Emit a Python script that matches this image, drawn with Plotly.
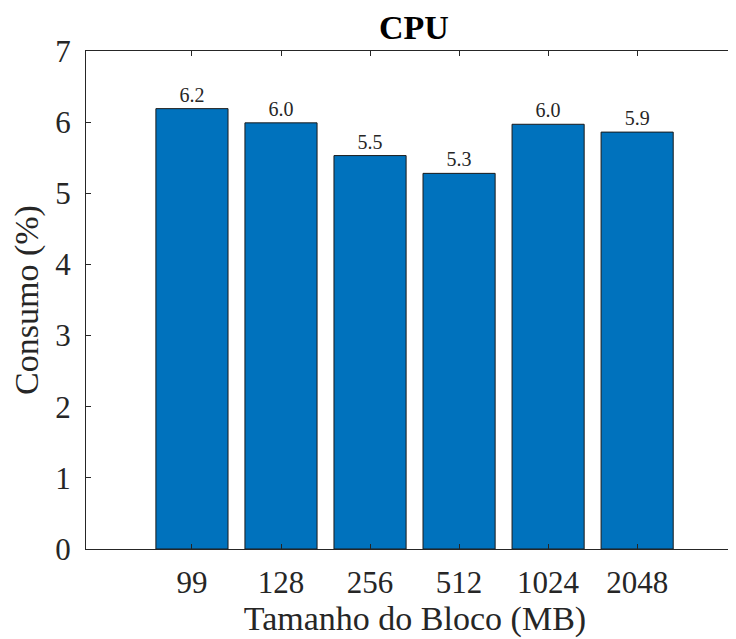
import plotly.graph_objects as go

# Consumo de CPU por tamanho de bloco
blocos = ["99", "128", "256", "512", "1024", "2048"]
consumo = [6.19, 5.99, 5.53, 5.28, 5.97, 5.86]

COR_BARRA = "#0072BD"
COR_EIXO = "#262626"
FONTE = "Liberation Serif, Times New Roman, serif"

fig = go.Figure(
    go.Bar(
        x=blocos,
        y=consumo,
        width=0.81,
        marker=dict(color=COR_BARRA, line=dict(color="#1a1a1a", width=1)),
        texttemplate="%{y:.1f}",
        textposition="outside",
        textfont=dict(family=FONTE, size=20, color=COR_EIXO),
        cliponaxis=False,
    )
)

fig.update_layout(
    width=736,
    height=639,
    margin=dict(l=78, r=0, t=43, b=98),
    plot_bgcolor="white",
    paper_bgcolor="white",
    showlegend=False,
    font=dict(family=FONTE, color=COR_EIXO),
    title=dict(
        text="<b>CPU</b>",
        x=406 / 736,
        xanchor="center",
        y=1 - 19 / 639,
        yanchor="middle",
        font=dict(size=34, family=FONTE, color="black"),
    ),
    xaxis=dict(
        type="category",
        range=[-1.19, 6.20],
        showline=True,
        linecolor=COR_EIXO,
        linewidth=1,
        mirror="ticks",
        ticks="inside",
        ticklen=5,
        tickcolor=COR_EIXO,
        showgrid=False,
        tickfont=dict(size=31),
        ticklabelstandoff=6,
        title=dict(text="Tamanho do Bloco (MB)", font=dict(size=34), standoff=2),
    ),
    yaxis=dict(
        range=[0, 7],
        dtick=1,
        showline=True,
        linecolor=COR_EIXO,
        linewidth=1,
        ticks="inside",
        ticklen=5,
        tickcolor=COR_EIXO,
        showgrid=False,
        zeroline=False,
        tickfont=dict(size=31),
        ticklabelstandoff=8,
        title=dict(text="Consumo (%)", font=dict(size=34), standoff=8),
    ),
)

fig.write_html("out.html")
